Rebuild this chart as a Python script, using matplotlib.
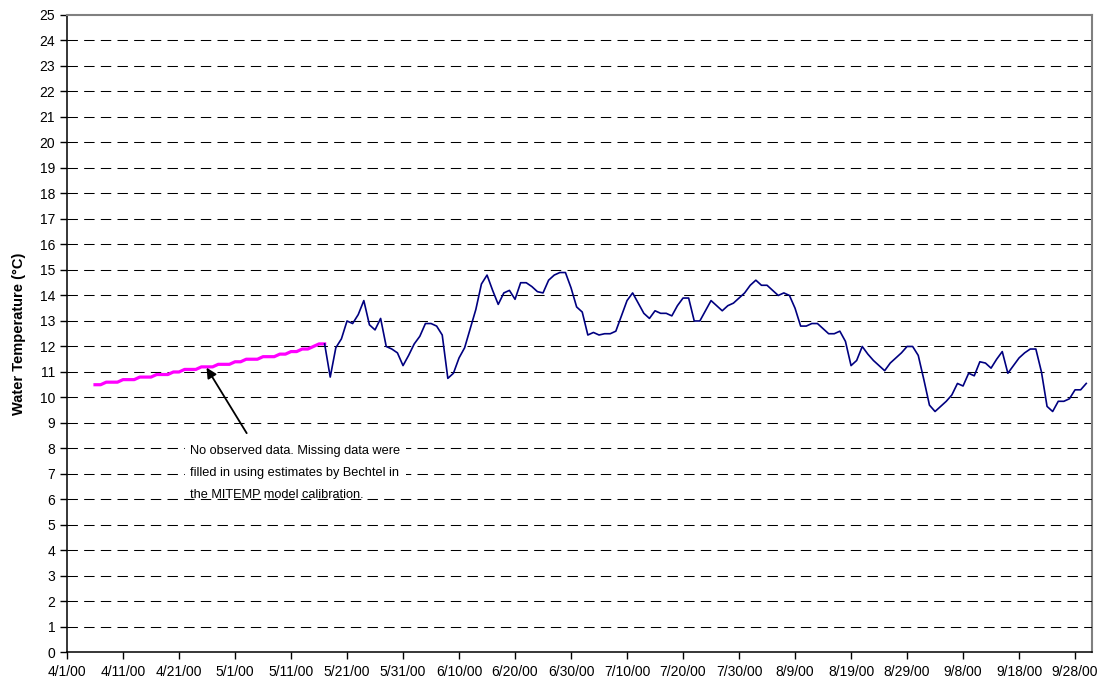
import numpy as np
import pandas as pd
import matplotlib
matplotlib.use("Agg")
import matplotlib.pyplot as plt
import matplotlib.dates as mdates

plt.rcParams['font.family'] = ['Liberation Sans', 'DejaVu Sans']

# estimated (filled) temperatures, daily from 4/6/00
est_start = "2000-04-06"
est_temp = [10.5, 10.5, 10.6, 10.6, 10.6, 10.7, 10.7, 10.7, 10.8, 10.8,
            10.8, 10.9, 10.9, 10.9, 11.0, 11.0, 11.1, 11.1, 11.1, 11.2,
            11.2, 11.2, 11.3, 11.3, 11.3, 11.4, 11.4, 11.5, 11.5, 11.5,
            11.6, 11.6, 11.6, 11.7, 11.7, 11.8, 11.8, 11.9, 11.9, 12.0,
            12.1, 12.1]

# observed temperatures, daily from 5/17/00
obs_start = "2000-05-17"
obs_temp = [12.1, 10.8, 11.95, 12.3, 13.0, 12.9, 13.25, 13.8, 12.85, 12.65,
            13.1, 12.0, 11.9, 11.75, 11.25, 11.65, 12.1, 12.4, 12.9, 12.9,
            12.8, 12.45, 10.75, 10.95, 11.55, 11.95, 12.7, 13.45, 14.45, 14.8,
            14.2, 13.65, 14.1, 14.2, 13.85, 14.5, 14.5, 14.35, 14.15, 14.1,
            14.6, 14.8, 14.9, 14.9, 14.3, 13.55, 13.35, 12.45, 12.55, 12.45,
            12.5, 12.5, 12.6, 13.2, 13.8, 14.1, 13.7, 13.3, 13.1, 13.4,
            13.3, 13.3, 13.2, 13.6, 13.9, 13.9, 13.0, 13.0, 13.4, 13.8,
            13.6, 13.4, 13.6, 13.7, 13.9, 14.1, 14.4, 14.6, 14.4, 14.4,
            14.2, 14.0, 14.1, 14.0, 13.5, 12.8, 12.8, 12.9, 12.9, 12.7,
            12.5, 12.5, 12.6, 12.2, 11.25, 11.45, 12.0, 11.7, 11.45, 11.25,
            11.05, 11.35, 11.55, 11.75, 12.0, 12.0, 11.65, 10.7, 9.7, 9.45,
            9.65, 9.85, 10.1, 10.55, 10.45, 10.95, 10.85, 11.4, 11.35, 11.15,
            11.5, 11.8, 10.95, 11.25, 11.55, 11.75, 11.9, 11.9, 11.0, 9.65,
            9.45, 9.85, 9.85, 9.95, 10.3, 10.3, 10.55]

note = ("No observed data. Missing data were\n"
        "filled in using estimates by Bechtel in\n"
        "the MITEMP model calibration.")

est_dates = pd.date_range(est_start, periods=len(est_temp), freq="D")
obs_dates = pd.date_range(obs_start, periods=len(obs_temp), freq="D")

fig = plt.figure(figsize=(11.04, 6.81), dpi=100)
ax = fig.add_axes([0.0607, 0.0419, 0.9283, 0.9361])

# grid lines (the one at 6 stays on top of the note box)
for v in range(1, 25):
    ax.axhline(v, color="black", lw=0.75, ls=(0, (10, 6)),
               zorder=5 if v <= 6 else 1)

ax.plot(est_dates, est_temp, color="#FF00FF", lw=2.3, zorder=3,
        solid_joinstyle="round")
ax.plot(obs_dates, obs_temp, color="#000080", lw=1.2, zorder=3)

ax.set_xlim(pd.Timestamp("2000-04-01"), pd.Timestamp("2000-10-01"))
ax.set_ylim(0, 25)
ax.set_yticks(range(0, 26))

xt = pd.date_range("2000-04-01", "2000-09-28", freq="10D")
ax.set_xticks(xt)
ax.set_xticklabels([f"{d.month}/{d.day}/{d.strftime('%y')}" for d in xt])
ax.tick_params(axis="both", direction="out", length=5, width=1,
               labelsize=10, color="black")
ax.tick_params(axis="x", pad=4)

for s in ["left", "bottom"]:
    ax.spines[s].set_color("black")
    ax.spines[s].set_linewidth(1.1)
for s in ["top", "right"]:
    ax.spines[s].set_color("#808080")
    ax.spines[s].set_linewidth(1.5)

ax.set_ylabel("Water Temperature (°C)", fontsize=10.5, fontweight="bold",
              labelpad=10)

ax.annotate("", xy=(pd.Timestamp("2000-04-25") + pd.Timedelta(hours=22), 11.17),
            xytext=(pd.Timestamp("2000-05-03") + pd.Timedelta(hours=2), 8.6),
            arrowprops=dict(arrowstyle="-|>", color="black", lw=1.3,
                            mutation_scale=15, shrinkA=0, shrinkB=0))
ax.text(pd.Timestamp("2000-04-23"), 8.15, note, fontsize=9.2, va="top",
        ha="left", linespacing=2.15, zorder=4,
        bbox=dict(facecolor="white", edgecolor="none", pad=4))

fig.savefig("out.png", dpi=100)
